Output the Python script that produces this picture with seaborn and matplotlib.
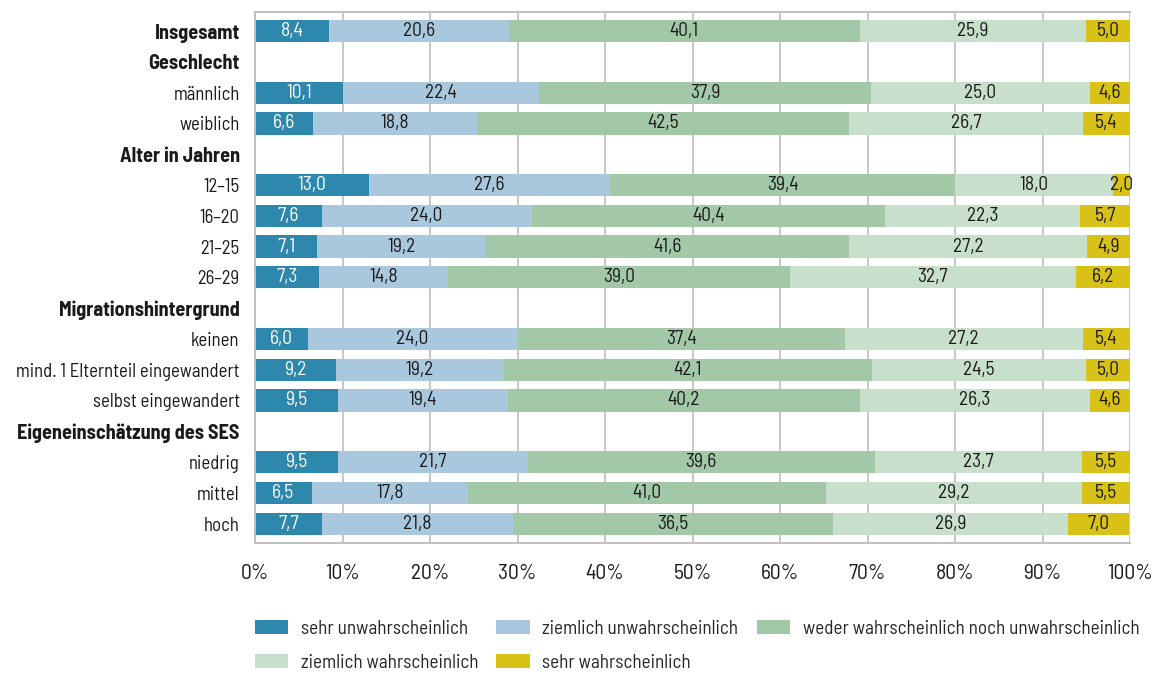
import matplotlib
matplotlib.use("Agg")
import matplotlib.pyplot as plt
from matplotlib.patches import Patch
import numpy as np
import pandas as pd
import seaborn as sns

# Row labels (group headers have no bar)
rows = [
    "Insgesamt", "Geschlecht", "männlich", "weiblich",
    "Alter in Jahren", "12–15", "16–20", "21–25", "26–29",
    "Migrationshintergrund", "keinen", "mind. 1 Elternteil eingewandert",
    "selbst eingewandert", "Eigeneinschätzung des SES",
    "niedrig", "mittel", "hoch",
]
bold_rows = ["Insgesamt", "Geschlecht", "Alter in Jahren",
             "Migrationshintergrund", "Eigeneinschätzung des SES"]

bar_rows = [
    "Insgesamt", "männlich", "weiblich", "12–15", "16–20", "21–25", "26–29",
    "keinen", "mind. 1 Elternteil eingewandert", "selbst eingewandert",
    "niedrig", "mittel", "hoch",
]

categories = [
    "sehr unwahrscheinlich",
    "ziemlich unwahrscheinlich",
    "weder wahrscheinlich noch unwahrscheinlich",
    "ziemlich wahrscheinlich",
    "sehr wahrscheinlich",
]

sehr_unwahrscheinlich = [8.4, 10.1, 6.6, 13.0, 7.6, 7.1, 7.3, 6.0, 9.2, 9.5, 9.5, 6.5, 7.7]
ziemlich_unwahrscheinlich = [20.6, 22.4, 18.8, 27.6, 24.0, 19.2, 14.8, 24.0, 19.2, 19.4, 21.7, 17.8, 21.8]
weder_noch = [40.1, 37.9, 42.5, 39.4, 40.4, 41.6, 39.0, 37.4, 42.1, 40.2, 39.6, 41.0, 36.5]
ziemlich_wahrscheinlich = [25.9, 25.0, 26.7, 18.0, 22.3, 27.2, 32.7, 27.2, 24.5, 26.3, 23.7, 29.2, 26.9]
sehr_wahrscheinlich = [5.0, 4.6, 5.4, 2.0, 5.7, 4.9, 6.2, 5.4, 5.0, 4.6, 5.5, 5.5, 7.0]

colors = ["#2e88ae", "#a9c8de", "#a2c8a8", "#c8dfcc", "#d9c217"]
text_colors = ["white", "#1a1a1a", "#1a1a1a", "#1a1a1a", "#1a1a1a"]

series = [sehr_unwahrscheinlich, ziemlich_unwahrscheinlich, weder_noch,
          ziemlich_wahrscheinlich, sehr_wahrscheinlich]

sns.set_theme(style="white")
plt.rcParams["font.family"] = ["Barlow Semi Condensed", "DejaVu Sans"]

df = pd.DataFrame({"row": bar_rows})
for cat, vals in zip(categories, series):
    df[cat] = vals
cum = df[categories].cumsum(axis=1)
left = cum - df[categories]

fig = plt.figure(figsize=(11.52, 6.74), dpi=100)
ax = fig.add_axes([255 / 1152, 1 - 543 / 674, (1130 - 255) / 1152, (543 - 12) / 674])

# Stacked bars: draw cumulative totals from the outermost segment inwards
for i in range(len(categories) - 1, -1, -1):
    plot_df = pd.DataFrame({"row": bar_rows, "value": cum[categories[i]].values})
    sns.barplot(data=plot_df, y="row", x="value", order=rows, orient="h",
                color=colors[i], saturation=1, width=0.72, errorbar=None,
                linewidth=0, ax=ax, zorder=2)

# Value labels centered in each segment
pos = {r: k for k, r in enumerate(rows)}
for i, cat in enumerate(categories):
    for j, r in enumerate(bar_rows):
        v = df[cat].iloc[j]
        xc = left[cat].iloc[j] + v / 2
        ax.text(xc, pos[r], f"{v:.1f}".replace(".", ","), ha="center", va="center",
                fontsize=14, color=text_colors[i], zorder=3)

ax.set_xlim(0, 100)
ax.set_ylim(16.63, -0.62)
ax.set_xticks(np.arange(0, 101, 10))
ax.set_xticklabels([f"{t}%" for t in range(0, 101, 10)], fontsize=15.5)
ax.set_xlabel("")
ax.set_ylabel("")
ax.set_yticks(range(len(rows)))
ax.set_yticklabels(rows, fontsize=13.5)
for lbl in ax.get_yticklabels():
    if lbl.get_text() in bold_rows:
        lbl.set_fontweight("bold")
        lbl.set_fontsize(14.5)
ax.tick_params(axis="x", length=0, pad=15, colors="#1a1a1a")
ax.tick_params(axis="y", length=0, pad=11, colors="#1a1a1a")

ax.grid(axis="x", color="#c8c8c8", linewidth=1.4, zorder=0)
ax.set_axisbelow(True)
ax.spines["right"].set_visible(False)
for s in ["left", "bottom", "top"]:
    ax.spines[s].set_color("#c0c0c0")
    ax.spines[s].set_linewidth(1.4)

handles = [Patch(facecolor=c, edgecolor="none", label=l) for c, l in zip(colors, categories)]
order = [0, 3, 1, 4, 2]
fig.legend([handles[k] for k in order], [categories[k] for k in order],
           loc="upper left", bbox_to_anchor=(247 / 1152, 1 - 612 / 674),
           ncol=3, frameon=False, fontsize=13.8, handlelength=1.75, handleheight=0.78,
           handletextpad=0.65, columnspacing=0.95, labelspacing=0.85, borderaxespad=0)

fig.savefig("out.png", dpi=100)
